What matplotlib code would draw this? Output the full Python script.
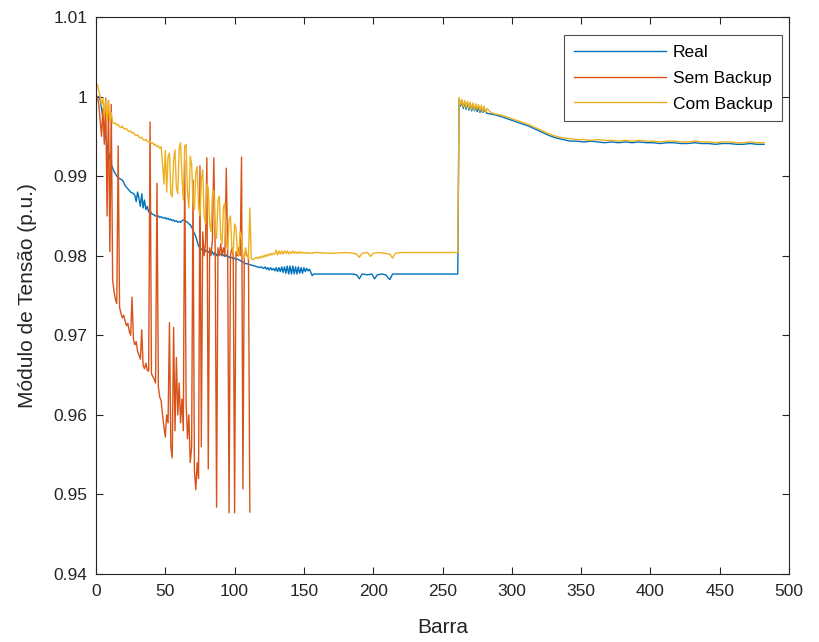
import matplotlib
matplotlib.use("Agg")
import matplotlib.pyplot as plt

plt.rcParams['font.family'] = ['Liberation Sans', 'DejaVu Sans']

# ---------------- data ----------------
real_x = list(range(1, 158)) + [160, 170, 180, 185, 188, 190, 192, 196, 199, 201, 203, 206, 209, 212, 214, 220, 230, 240, 250, 261] + \
    list(range(262, 281)) + [282, 285, 288, 292, 297, 302, 307, 312, 317, 322, 327, 332, 337, 342, 347, 352, 357, 362, 367, 372, 377,
                             382, 387, 392, 397, 402, 407, 412, 417, 422, 427, 432, 437, 442, 447, 452, 457, 462, 467, 472, 477, 482]
real_y = [1.0000, 1.0000, 0.9996, 0.9985, 0.9972, 0.9960, 0.9950, 0.9938, 0.9930, 0.9922, 0.9915, 0.9910,
          0.9906, 0.9903, 0.9900, 0.9898, 0.9897, 0.9896, 0.9895, 0.9892, 0.9888, 0.9886, 0.9884, 0.9882, 0.9880, 0.9879, 0.9878,
          0.9876, 0.9868, 0.9880, 0.9872, 0.9862, 0.9878, 0.9860, 0.9870, 0.9858, 0.9862, 0.9855, 0.9857, 0.9853,
          0.9852, 0.9851, 0.9850, 0.9849, 0.9850, 0.9848, 0.9849, 0.9848, 0.9847, 0.9848, 0.9846, 0.9847, 0.9845, 0.9846, 0.9844,
          0.9845, 0.9843, 0.9844, 0.9842, 0.9843,
          0.9842, 0.9844, 0.9845, 0.9845, 0.9843, 0.9842, 0.9840, 0.9839, 0.9836, 0.9832, 0.9828, 0.9824, 0.9818, 0.9812, 0.9810,
          0.9808, 0.9807, 0.9809, 0.9805, 0.9807,
          0.9804, 0.9806, 0.9802, 0.9805, 0.9801, 0.9804, 0.9800, 0.9803, 0.9801, 0.9802, 0.9800, 0.9801, 0.9799, 0.9801, 0.9798,
          0.9799, 0.9797, 0.9798, 0.9796, 0.9797,
          0.9795, 0.9796, 0.9795, 0.9794, 0.9793, 0.9792, 0.9791, 0.9790, 0.9790, 0.9789, 0.9789, 0.9788, 0.9788, 0.9787, 0.9787,
          0.9786, 0.9786, 0.9785, 0.9786, 0.9785,
          0.9784, 0.9786, 0.9783, 0.9785, 0.9782, 0.9785, 0.9782, 0.9784, 0.9781, 0.9785, 0.9780, 0.9785, 0.9780, 0.9786, 0.9779,
          0.9786, 0.9778, 0.9787, 0.9777, 0.9787, 0.9777, 0.9787, 0.9777, 0.9786, 0.9777, 0.9786, 0.9778, 0.9785, 0.9778, 0.9785,
          0.9780, 0.9784, 0.9781, 0.9783, 0.9779, 0.9775, 0.9777,
          0.9777, 0.9777, 0.9777, 0.9777, 0.9776, 0.9771, 0.9777, 0.9776, 0.9777, 0.9771, 0.9776, 0.9777, 0.9776, 0.9770, 0.9777,
          0.9777, 0.9777, 0.9777, 0.9777, 0.9777,
          0.9997, 0.9988, 0.9995, 0.9985, 0.9993, 0.9984, 0.9992, 0.9983, 0.9991, 0.9982, 0.9990, 0.9982, 0.9988, 0.9981, 0.9987,
          0.9980, 0.9985, 0.9980, 0.9983,
          0.9979, 0.9978, 0.9977, 0.9975, 0.9972, 0.9969, 0.9966, 0.9963, 0.9959, 0.9955, 0.9951, 0.9948, 0.9946, 0.9944, 0.9944,
          0.9943, 0.9944, 0.9943, 0.9942, 0.9943, 0.9942, 0.9943, 0.9942, 0.9943, 0.9942, 0.9942, 0.9941, 0.9942, 0.9942, 0.9941,
          0.9941, 0.9942, 0.9941, 0.9941, 0.9940, 0.9941, 0.9941, 0.9940, 0.9940, 0.9941, 0.9940, 0.9940]

sem_x = list(range(1, 112))
sem_y = [1.0000, 0.9990, 0.9970, 0.9950, 0.9985, 0.9940, 0.9998, 0.9850, 0.9995, 0.9805,
         0.9990, 0.9770, 0.9755, 0.9745, 0.9740, 0.9938, 0.9735, 0.9728, 0.9722, 0.9725,
         0.9718, 0.9712, 0.9715, 0.9705, 0.9700, 0.9748, 0.9695, 0.9688, 0.9692, 0.9680,
         0.9675, 0.9670, 0.9707, 0.9662, 0.9658, 0.9665, 0.9656, 0.9655, 0.9968, 0.9652,
         0.9648, 0.9645, 0.9640, 0.9891, 0.9635, 0.9622, 0.9618, 0.9600, 0.9585, 0.9572,
         0.9600, 0.9590, 0.9716, 0.9560, 0.9546, 0.9710, 0.9580, 0.9672, 0.9600, 0.9640,
         0.9590, 0.9620, 0.9580, 0.9920, 0.9616, 0.9570, 0.9600, 0.9540, 0.9560, 0.9895,
         0.9530, 0.9506, 0.9540, 0.9520, 0.9913, 0.9560, 0.9830, 0.9800, 0.9815, 0.9923,
         0.9532, 0.9810, 0.9800, 0.9820, 0.9923, 0.9805, 0.9484, 0.9810, 0.9800, 0.9815,
         0.9800, 0.9810, 0.9800, 0.9910, 0.9805, 0.9477, 0.9800, 0.9810, 0.9800, 0.9477,
         0.9805, 0.9800, 0.9810, 0.9800, 0.9924, 0.9507, 0.9800, 0.9805, 0.9800, 0.9798,
         0.9478]

com_x = list(range(1, 158)) + [160, 170, 180, 186, 188, 190, 192, 196, 198, 200, 204, 208, 212, 214, 216, 220, 230, 240, 250, 261] + \
    list(range(262, 283)) + [285, 288, 292, 297, 302, 307, 312, 317, 322, 327, 332, 337, 342, 347, 352, 357, 362, 367, 372, 377,
                             382, 387, 392, 397, 402, 407, 412, 417, 422, 427, 432, 437, 442, 447, 452, 457, 462, 467, 472, 477, 482]
com_y = [1.0015, 1.0008, 1.0000, 0.9990, 0.9998, 0.9975, 0.9996, 0.9970, 0.9994, 0.9968, 0.9980, 0.9967,
         0.9966, 0.9967, 0.9964, 0.9965, 0.9962, 0.9961, 0.9963, 0.9960, 0.9959, 0.9960, 0.9957, 0.9956, 0.9957, 0.9954,
         0.9955, 0.9952, 0.9951, 0.9952, 0.9949, 0.9948, 0.9949, 0.9946, 0.9945, 0.9946, 0.9944, 0.9943, 0.9944, 0.9941,
         0.9942, 0.9939, 0.9940, 0.9937, 0.9938, 0.9935,
         0.9937, 0.9915, 0.9890, 0.9932, 0.9880, 0.9925, 0.9929, 0.9878, 0.9874, 0.9920, 0.9933, 0.9885, 0.9878, 0.9935,
         0.9942, 0.9900, 0.9870, 0.9938, 0.9940, 0.9880, 0.9860, 0.9925, 0.9915, 0.9870, 0.9858, 0.9905, 0.9912, 0.9860,
         0.9850, 0.9895, 0.9908, 0.9850, 0.9840, 0.9890, 0.9885, 0.9840, 0.9830, 0.9878, 0.9882, 0.9830, 0.9822, 0.9870,
         0.9875, 0.9822, 0.9815, 0.9862, 0.9866, 0.9815, 0.9808, 0.9845, 0.9850, 0.9810, 0.9803, 0.9840, 0.9835, 0.9803,
         0.9800, 0.9830, 0.9825, 0.9800, 0.9797, 0.9810, 0.9800, 0.9796, 0.9860, 0.9797, 0.9795, 0.9796, 0.9797,
         0.9798, 0.9796, 0.9799, 0.9797, 0.9800, 0.9798, 0.9801, 0.9799, 0.9802, 0.9800, 0.9803, 0.9801, 0.9803, 0.9802, 0.9807,
         0.9801, 0.9806, 0.9802, 0.9806, 0.9802, 0.9806, 0.9803, 0.9806, 0.9802, 0.9805, 0.9803, 0.9806, 0.9803, 0.9805, 0.9803,
         0.9805, 0.9803, 0.9805, 0.9803, 0.9804, 0.9803, 0.9804, 0.9803, 0.9804, 0.9803, 0.9803, 0.9804,
         0.9804, 0.9803, 0.9804, 0.9803, 0.9802, 0.9798, 0.9803, 0.9804, 0.9799, 0.9803, 0.9804, 0.9803, 0.9802, 0.9797, 0.9803,
         0.9804, 0.9804, 0.9804, 0.9804, 0.9804,
         0.9999, 0.9990, 0.9996, 0.9987, 0.9995, 0.9986, 0.9994, 0.9985, 0.9993, 0.9984, 0.9992, 0.9983, 0.9991, 0.9984, 0.9990,
         0.9982, 0.9989, 0.9981, 0.9988, 0.9980, 0.9985,
         0.9980, 0.9978, 0.9977, 0.9974, 0.9971, 0.9968, 0.9965, 0.9961, 0.9957, 0.9953, 0.9950, 0.9948, 0.9947, 0.9946,
         0.9946, 0.9945, 0.9946, 0.9945, 0.9945, 0.9944, 0.9945, 0.9944, 0.9945, 0.9944, 0.9944, 0.9943, 0.9944, 0.9944, 0.9943,
         0.9943, 0.9944, 0.9943, 0.9943, 0.9942, 0.9943, 0.9943, 0.9942, 0.9942, 0.9943, 0.9942, 0.9942]

series_names = ["Real", "Sem Backup", "Com Backup"]
series_colors = ["#0072BD", "#D95319", "#EDB120"]

x_ticks = [0, 50, 100, 150, 200, 250, 300, 350, 400, 450, 500]
y_ticks = [0.94, 0.95, 0.96, 0.97, 0.98, 0.99, 1.00, 1.01]
y_tick_labels = ["0.94", "0.95", "0.96", "0.97", "0.98", "0.99", "1", "1.01"]

# ---------------- figure ----------------
W, H = 819, 642
fig = plt.figure(figsize=(W / 100, H / 100), dpi=100)
ax = fig.add_axes([96 / W, 1 - 574 / H, (789 - 96) / W, (574 - 17) / H])

ax.plot(real_x, real_y, color=series_colors[0], lw=1.0, label=series_names[0])
ax.plot(sem_x, sem_y, color=series_colors[1], lw=1.0, label=series_names[1])
ax.plot(com_x, com_y, color=series_colors[2], lw=1.0, label=series_names[2])

ax.set_xlim(0, 500)
ax.set_ylim(0.94, 1.01)
ax.set_xticks(x_ticks)
ax.set_yticks(y_ticks)
ax.set_yticklabels(y_tick_labels)
ax.tick_params(direction='in', top=True, right=True, labelsize=12.5, colors='#262626', length=5, width=0.8)
ax.tick_params(axis='x', pad=7)
ax.tick_params(axis='y', pad=6)
for s in ax.spines.values():
    s.set_color('#262626')
    s.set_linewidth(0.8)

ax.set_xlabel("Barra", fontsize=15, color='#262626', labelpad=14)
ax.set_ylabel("Módulo de Tensão (p.u.)", fontsize=15, color='#262626', labelpad=12)

leg = ax.legend(loc='upper right', bbox_to_anchor=(782 / W, 1 - 35 / H), bbox_transform=fig.transFigure,
                fontsize=12.5, frameon=True, fancybox=False, edgecolor='#262626',
                handlelength=5.3, borderaxespad=0.0, labelspacing=0.62,
                handletextpad=0.4, borderpad=0.55)
leg.get_frame().set_linewidth(0.8)

fig.savefig("out.png", dpi=100)
